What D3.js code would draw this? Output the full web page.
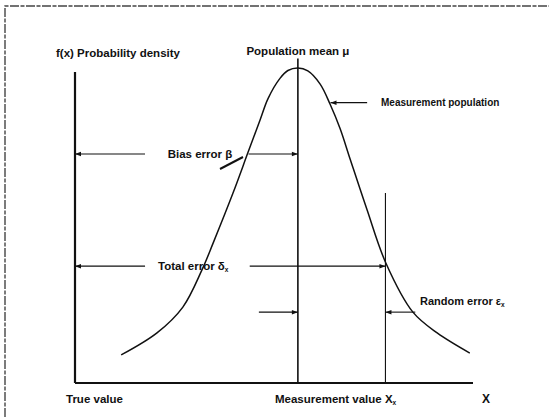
<!DOCTYPE html>
<html>
<head>
<meta charset="utf-8">
<script src="https://cdnjs.cloudflare.com/ajax/libs/d3/7.8.5/d3.min.js"></script>
<style>
    body { margin: 0; background: #fff; }
    text { font-family: "Liberation Sans", Arial, sans-serif; font-weight: bold; fill: #111; }
</style>
</head>
<body>
<div id="viz"></div>
<script>
const curveX = [11.6, 20.6, 27.1, 31.9, 34.7, 39.7, 43.5, 46.5, 48.5, 51.5, 53.5, 56.0, 58.5, 61.6, 64.1, 66.6, 69.1, 73.4, 78.1, 84.9, 91.0, 99.2];
const curveY = [0.089, 0.159, 0.241, 0.359, 0.444, 0.603, 0.733, 0.835, 0.903, 0.967, 0.992, 1.0, 0.991, 0.949, 0.885, 0.808, 0.712, 0.549, 0.381, 0.225, 0.159, 0.095];

const trueValue = 0;
const populationMean = 56;
const measurementValue = 78;

// density levels where the error arrows sit
const biasLevel = 0.727;
const totalLevel = 0.371;
const randomLevel = 0.225;
const pointerLevel = 0.89;

document.addEventListener("DOMContentLoaded", () => {
    const width = 549;
    const height = 417;

    const svg = d3.select('#viz').append('svg')
        .attr('width', width)
        .attr('height', height);

    const x = d3.scaleLinear().domain([0, 100]).range([75, 473]);
    const y = d3.scaleLinear().domain([0, 1]).range([383, 68]);

    svg.append('defs').append('marker')
        .attr('id', 'arrow')
        .attr('viewBox', '0 -4 8 8')
        .attr('refX', 8)
        .attr('refY', 0)
        .attr('markerWidth', 7)
        .attr('markerHeight', 6)
        .attr('markerUnits', 'userSpaceOnUse')
        .attr('orient', 'auto')
        .append('path')
        .attr('d', 'M0,-3L8,0L0,3Z')
        .attr('fill', '#111');

    // scanned page frame
    svg.append('path')
        .attr('d', 'M5,417 L5,6 L549,6')
        .attr('fill', 'none')
        .attr('stroke', '#444')
        .attr('stroke-width', 1.4)
        .attr('stroke-dasharray', '9,1.5,4,1.5');

    // axes
    svg.append('line')
        .attr('x1', x(trueValue)).attr('x2', x(trueValue))
        .attr('y1', y(0)).attr('y2', y(0.987))
        .attr('stroke', '#111').attr('stroke-width', 2.2);
    svg.append('line')
        .attr('x1', x(trueValue)).attr('x2', x(100))
        .attr('y1', y(0)).attr('y2', y(0))
        .attr('stroke', '#111').attr('stroke-width', 2.2);

    // population mean and measurement value
    svg.append('line')
        .attr('x1', x(populationMean)).attr('x2', x(populationMean))
        .attr('y1', y(0)).attr('y2', y(1.03))
        .attr('stroke', '#111').attr('stroke-width', 1.6);
    svg.append('line')
        .attr('x1', x(measurementValue)).attr('x2', x(measurementValue))
        .attr('y1', y(0)).attr('y2', y(0.603))
        .attr('stroke', '#111').attr('stroke-width', 1.1);

    // curve
    const points = curveX.map((d, i) => [d, curveY[i]]);
    const line = d3.line()
        .x(d => x(d[0]))
        .y(d => y(d[1]))
        .curve(d3.curveCatmullRom.alpha(0.5));
    svg.append('path')
        .datum(points)
        .attr('d', line)
        .attr('fill', 'none')
        .attr('stroke', '#111')
        .attr('stroke-width', 1.5);

    const arrow = (x1, x2, level) => svg.append('line')
        .attr('x1', x(x1)).attr('x2', x(x2))
        .attr('y1', y(level)).attr('y2', y(level))
        .attr('stroke', '#111')
        .attr('stroke-width', 1.1)
        .attr('marker-end', 'url(#arrow)');

    // bias error
    arrow(17.6, trueValue, biasLevel);
    arrow(43.6, populationMean, biasLevel);
    // total error
    arrow(17.6, trueValue, totalLevel);
    arrow(43.9, measurementValue, totalLevel);
    // random error
    arrow(46.2, populationMean, randomLevel);
    arrow(85.5, measurementValue, randomLevel);
    // pointer to the curve
    arrow(73.4, 64.2, pointerLevel);

    // leader line under the bias label
    svg.append('line')
        .attr('x1', 220).attr('y1', 169)
        .attr('x2', 243).attr('y2', 157)
        .attr('stroke', '#111').attr('stroke-width', 2);

    const label = (txt, px, py, anchor, size) => svg.append('text')
        .attr('x', px).attr('y', py)
        .attr('text-anchor', anchor || 'start')
        .attr('font-size', size || 11.5)
        .text(txt);

    label('f(x) Probability density', 56, 57);
    label('Population mean \u03bc', x(populationMean), 55, 'middle');
    label('Measurement population', 381, 106, 'start', 10);
    label('Bias error \u03b2', 200, 158, 'middle');
    label('True value', 66, 403);
    label('X', 482, 403, 'start', 12);

    const total = label('Total error \u03b4', 158, 270);
    total.append('tspan').attr('font-size', 6.5).attr('dy', 2).text('x');

    const random = label('Random error \u03b5', 420, 305, 'start', 11);
    random.append('tspan').attr('font-size', 6.5).attr('dy', 2).text('x');

    const meas = label('Measurement value X', 275, 403);
    meas.append('tspan').attr('font-size', 6.5).attr('dy', 2).text('x');
});
</script>
</body>
</html>
